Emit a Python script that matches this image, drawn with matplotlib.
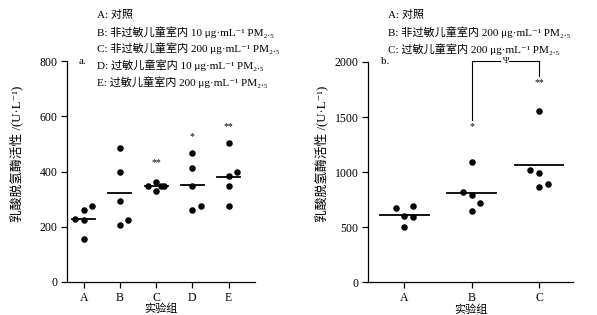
import numpy as np
import matplotlib
matplotlib.use("Agg")
import matplotlib.pyplot as plt

plt.rcParams['font.family'] = ['Liberation Serif', 'Noto Sans CJK SC', 'DejaVu Serif', 'DejaVu Sans']
plt.rcParams['axes.unicode_minus'] = False

# ---- data: panel a ----
cats_a = ["A", "B", "C", "D", "E"]
vals_a = [
    [229, 259, 225, 276, 156],
    [485, 399, 294, 207, 226],
    [347, 363, 329, 347, 349],
    [467, 414, 347, 259, 276],
    [503, 383, 398, 347, 276],
]
jit_a = [
    [-1, 0, 0, 1, 0],
    [0, 0, 0, 0, 1],
    [-1, 0, 0, 0.6, 1],
    [0, 0, 0, 0, 1],
    [0, 0, 1, 0, 0],
]
stars_a = ["", "", "**", "*", "**"]
star_y_a = [None, None, 431, 525, 561]
legend_a = [
    "A: 对照",
    "B: 非过敏儿童室内 10 μg·mL⁻¹ PM₂.₅",
    "C: 非过敏儿童室内 200 μg·mL⁻¹ PM₂.₅",
    "D: 过敏儿童室内 10 μg·mL⁻¹ PM₂.₅",
    "E: 过敏儿童室内 200 μg·mL⁻¹ PM₂.₅",
]

# ---- data: panel b ----
cats_b = ["A", "B", "C"]
vals_b = [
    [679, 694, 606, 591, 506],
    [1091, 821, 791, 724, 648],
    [1551, 1021, 994, 894, 864],
]
jit_b = [
    [-1, 1, 0, 1, 0],
    [0, -1, 0, 1, 0],
    [0, -1, 0, 1, 0],
]
stars_b = ["", "*", "**"]
star_y_b = [None, 1415, 1809]
legend_b = [
    "A: 对照",
    "B: 非过敏儿童室内 200 μg·mL⁻¹ PM₂.₅",
    "C: 过敏儿童室内 200 μg·mL⁻¹ PM₂.₅",
]

W, H = 597, 315
fig = plt.figure(figsize=(W / 100, H / 100), dpi=100)

FS_TICK = 8.5
FS_LEG = 8
ylabel = "乳酸脱氢酶活性 /(U·L⁻¹)"


def panel(rect, cats, vals, jit, stars, star_y, xlim, ymax, yticks, jstep, hw, label, ylab_xy):
    ax = fig.add_axes(rect)
    for i, (vs, js) in enumerate(zip(vals, jit)):
        x0 = i + 1
        xs = [x0 + j * jstep for j in js]
        ax.scatter(xs, vs, s=22, color='black', zorder=3, linewidths=0)
        m = np.mean(vs)
        ax.plot([x0 - hw, x0 + hw], [m, m], color='black', lw=1.3, zorder=2)
        if stars[i]:
            ax.text(x0, star_y[i], stars[i], ha='center', va='center', fontsize=7)
    ax.set_xlim(*xlim)
    ax.set_ylim(0, ymax)
    ax.set_xticks(range(1, len(cats) + 1))
    ax.set_xticklabels(cats)
    ax.set_yticks(yticks)
    for s in ['top', 'right']:
        ax.spines[s].set_visible(False)
    for s in ['left', 'bottom']:
        ax.spines[s].set_linewidth(0.9)
    ax.tick_params(direction='out', length=4, width=0.9, labelsize=FS_TICK, pad=3)
    ax.set_xlabel("实验组", fontsize=8, labelpad=0)
    ax.set_ylabel(ylabel, fontsize=9.2)
    ax.yaxis.label.set_va('center')
    ax.yaxis.set_label_coords(*ylab_xy)
    ax.text(0.06, 1.0, label, transform=ax.transAxes, fontsize=FS_LEG, va='center', ha='left')
    return ax


axa = panel([67 / W, 1 - 282 / H, 188 / W, 221 / H], cats_a, vals_a, jit_a, stars_a, star_y_a,
            (0.54, 5.73), 800, [0, 200, 400, 600, 800], 0.23, 0.32, "a.", (-0.271, 0.58))
axb = panel([368.3 / W, 1 - 282.3 / H, 204.4 / W, 220.3 / H], cats_b, vals_b, jit_b, stars_b, star_y_b,
            (0.465, 3.50), 2000, [0, 500, 1000, 1500, 2000], 0.13, 0.36, "b.", (-0.228, 0.585))

# bracket on panel b
axb.plot([2, 2, 3, 3], [1476, 2012, 2012, 1876], color='black', lw=0.8, clip_on=False)
axb.text(2.5, 2012, "Ψ", ha='center', va='center', fontsize=6.5, clip_on=False,
         bbox=dict(facecolor='white', edgecolor='none', pad=0.5))

# legends
for k, t in enumerate(legend_a):
    fig.text(97 / W, 1 - (15 + k * 16.8) / H, t, fontsize=FS_LEG, va='center', ha='left')
for k, t in enumerate(legend_b):
    fig.text(388 / W, 1 - (15 + k * 17.3) / H, t, fontsize=FS_LEG, va='center', ha='left')

fig.savefig("out.png", dpi=100)
